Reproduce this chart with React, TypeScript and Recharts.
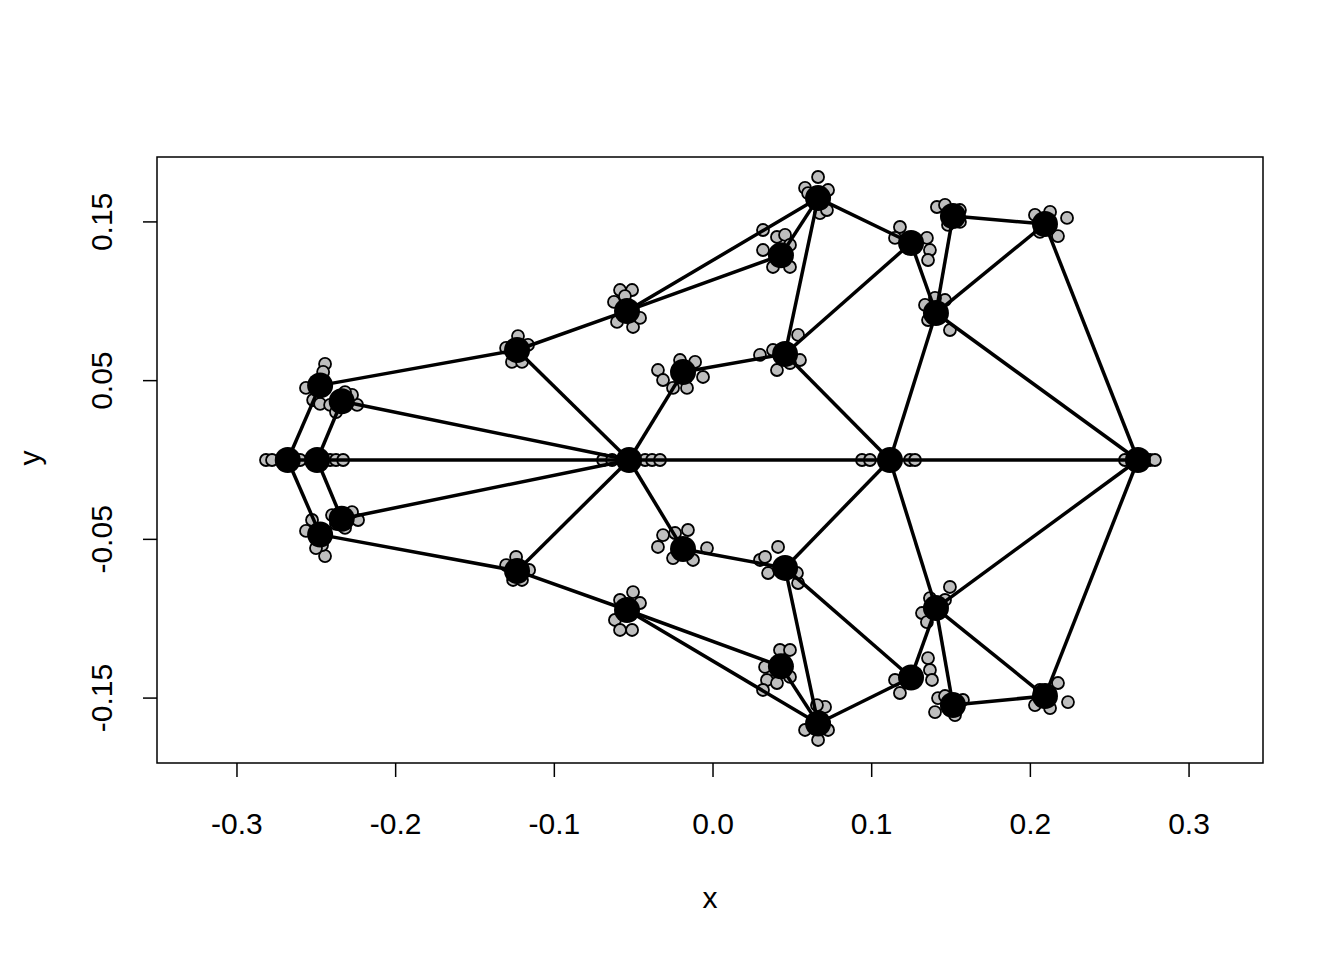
import { ScatterChart, Scatter, XAxis, YAxis, ReferenceArea } from "recharts";

// mean shape (consensus) landmarks, numbered 1..29
const landmarks: [number, number][] = [
  [-0.268, 0], [-0.2495, 0], [-0.2476, 0.047], [-0.234, 0.037], [-0.2476, -0.047],
  [-0.234, -0.037], [-0.1235, 0.0693], [-0.1235, -0.0699], [-0.0529, 0], [-0.0542, 0.0939],
  [-0.0542, -0.0945], [-0.0189, 0.0554], [-0.0189, -0.0561], [0.0428, 0.129], [0.0428, -0.13],
  [0.0662, 0.165], [0.0662, -0.166], [0.0454, 0.0668], [0.0454, -0.068], [0.1115, 0],
  [0.1248, 0.1367], [0.1248, -0.137], [0.1405, 0.0926], [0.1405, -0.0933], [0.1512, 0.1537],
  [0.1512, -0.1544], [0.2092, 0.1487], [0.2092, -0.1487], [0.2678, 0],
];

// wireframe links between landmarks (1-based)
const links: [number, number][] = [
  [1, 2], [2, 9], [9, 20], [20, 29], [1, 3], [1, 5], [2, 4], [2, 6], [3, 7], [5, 8],
  [4, 9], [6, 9], [7, 9], [8, 9], [7, 10], [8, 11], [9, 12], [9, 13], [12, 18], [13, 19],
  [10, 14], [11, 15], [10, 16], [11, 17], [14, 16], [15, 17], [16, 18], [17, 19], [16, 21],
  [17, 22], [18, 21], [19, 22], [18, 20], [19, 20], [20, 23], [20, 24], [21, 23], [22, 24],
  [23, 25], [24, 26], [25, 27], [26, 28], [23, 27], [24, 28], [23, 29], [24, 29], [27, 29],
  [28, 29],
];

// aligned specimen coordinates (grey points)
const specimens: [number, number][] = [
  [-0.2817, 0], [-0.2779, 0], [-0.2602, 0],
  [-0.2413, 0], [-0.2376, 0], [-0.2331, 0],
  [-0.2445, 0.0605], [-0.2457, 0.0555], [-0.2565, 0.0454], [-0.252, 0.0378], [-0.2476, 0.0353],
  [-0.2243, 0.0347], [-0.2275, 0.041], [-0.2413, 0.0347], [-0.2319, 0.0428], [-0.2376, 0.0302],
  [-0.2445, -0.0605], [-0.2565, -0.0447], [-0.2527, -0.0378], [-0.2464, -0.0536], [-0.2502, -0.0555],
  [-0.2237, -0.0378], [-0.2275, -0.0328], [-0.2401, -0.0347], [-0.2319, -0.0428], [-0.2376, -0.0403],
  [-0.1229, 0.0781], [-0.1304, 0.0706], [-0.1267, 0.0618], [-0.1204, 0.0618], [-0.1166, 0.0725],
  [-0.1241, -0.0611], [-0.1304, -0.0662], [-0.126, -0.0756], [-0.1204, -0.0756], [-0.1159, -0.0693],
  [-0.0693, 0], [-0.0636, 0], [-0.0428, 0], [-0.0384, 0], [-0.0334, 0],
  [-0.0586, 0.1071], [-0.051, 0.1071], [-0.0624, 0.0996], [-0.0605, 0.087], [-0.0504, 0.0838],
  [-0.046, 0.0895], [-0.0555, 0.1033],
  [-0.0586, -0.0882], [-0.0504, -0.0832], [-0.0618, -0.1008], [-0.0586, -0.1071], [-0.051, -0.1071],
  [-0.046, -0.0901],
  [-0.0347, 0.0567], [-0.0315, 0.0504], [-0.0164, 0.0454], [-0.0252, 0.0454], [-0.0113, 0.0618],
  [-0.0063, 0.0523], [-0.0208, 0.063],
  [-0.0347, -0.0548], [-0.0315, -0.0473], [-0.0158, -0.0441], [-0.0239, -0.046], [-0.0038, -0.0555],
  [-0.0126, -0.063], [-0.0252, -0.0618],
  [0.0315, 0.1449], [0.0315, 0.1323], [0.0378, 0.1216], [0.0485, 0.1216], [0.0403, 0.1405],
  [0.0454, 0.1418], [0.0485, 0.1355],
  [0.0422, -0.1197], [0.0485, -0.1197], [0.0328, -0.1304], [0.034, -0.1386], [0.0315, -0.1449],
  [0.0403, -0.1405], [0.0485, -0.1367],
  [0.0662, 0.1783], [0.058, 0.1714], [0.0725, 0.1701], [0.0674, 0.1556], [0.0718, 0.1575], [0.0599, 0.1682],
  [0.0706, -0.1556], [0.058, -0.1701], [0.0662, -0.1764], [0.0725, -0.1701], [0.0655, -0.1544],
  [0.0536, 0.0788], [0.0296, 0.0662], [0.0403, 0.0567], [0.0378, 0.0693], [0.0548, 0.063], [0.0485, 0.0611],
  [0.041, -0.0548], [0.0296, -0.063], [0.0347, -0.0712], [0.0536, -0.0775], [0.0529, -0.0712], [0.0328, -0.0611],
  [0.0939, 0], [0.0989, 0], [0.1241, 0], [0.1273, 0],
  [0.1178, 0.1468], [0.1147, 0.1399], [0.1348, 0.1399], [0.1367, 0.1323], [0.1355, 0.126],
  [0.1355, -0.1248], [0.1367, -0.1323], [0.1147, -0.1386], [0.1178, -0.1468], [0.138, -0.1386],
  [0.1336, 0.0977], [0.1355, 0.0882], [0.1462, 0.1008], [0.1493, 0.0819], [0.1399, 0.1021],
  [0.1493, -0.08], [0.1317, -0.0964], [0.1348, -0.1021], [0.1462, -0.0882], [0.1367, -0.087],
  [0.1411, 0.1594], [0.1462, 0.1607], [0.1556, 0.1575], [0.1481, 0.1481], [0.1556, 0.15],
  [0.1399, -0.1588], [0.1418, -0.15], [0.1575, -0.1512], [0.1525, -0.1607], [0.1462, -0.1487],
  [0.2231, 0.1525], [0.2174, 0.1411], [0.2029, 0.1544], [0.206, 0.1437], [0.2124, 0.1563],
  [0.2174, -0.1405], [0.2237, -0.1525], [0.2029, -0.1544], [0.206, -0.1449], [0.2124, -0.1563],
  [0.2596, 0], [0.2754, 0], [0.2785, 0],
];

const xTicks = [-0.3, -0.2, -0.1, 0, 0.1, 0.2, 0.3];
const yTicks = [-0.15, -0.05, 0.05, 0.15];

const FONT = "'Liberation Sans', Arial, sans-serif";
const FS = 30;

const toPts = (arr: [number, number][]) => arr.map(([x, y]) => ({ x, y }));

const GreyDot = (p: any) => (
  <circle cx={p.cx} cy={p.cy} r={6} fill="#bebebe" stroke="#000" strokeWidth={1.8} />
);
const MeanDot = (p: any) => <circle cx={p.cx} cy={p.cy} r={13} fill="#000" />;
const NoDot = () => <g />;

const XTick = ({ x, payload }: any) => (
  <text x={x} y={826} textAnchor="middle" fontSize={FS} fontFamily={FONT} fill="#000">
    {Number(payload.value).toFixed(1)}
  </text>
);

const YTick = ({ y, payload }: any) => (
  <text
    x={104}
    y={y}
    transform={`rotate(-90, 104, ${y})`}
    textAnchor="middle"
    fontSize={FS}
    fontFamily={FONT}
    fill="#000"
  >
    {Number(payload.value).toFixed(2)}
  </text>
);

export default function App() {
  const linkData = links.map(([a, b]) => toPts([landmarks[a - 1], landmarks[b - 1]]));
  return (
    <div style={{ position: "relative", width: 1336, height: 952, background: "#fff", fontFamily: FONT }}>
      <ScatterChart width={1336} height={952} margin={{ top: 149, right: 81, bottom: 137, left: 69 }}>
        <XAxis
          type="number"
          dataKey="x"
          domain={[-0.3504, 0.3466]}
          allowDataOverflow
          ticks={xTicks}
          axisLine={false}
          tickSize={14}
          tickLine={{ stroke: "#000", strokeWidth: 1.5 }}
          tick={<XTick />}
          height={60}
        />
        <YAxis
          type="number"
          dataKey="y"
          domain={[-0.1909, 0.1909]}
          allowDataOverflow
          ticks={yTicks}
          axisLine={false}
          tickSize={14}
          tickLine={{ stroke: "#000", strokeWidth: 1.5 }}
          tick={<YTick />}
          width={80}
        />
        <ReferenceArea
          x1={-0.3504}
          x2={0.3466}
          y1={-0.1909}
          y2={0.1909}
          fill="none"
          fillOpacity={0}
          stroke="#000"
          strokeWidth={1.5}
          ifOverflow="visible"
        />
        <Scatter data={toPts(specimens)} shape={GreyDot} isAnimationActive={false} />
        {linkData.map((d, i) => (
          <Scatter
            key={i}
            data={d}
            line={{ stroke: "#000", strokeWidth: 3.5 }}
            shape={NoDot}
            isAnimationActive={false}
          />
        ))}
        <Scatter data={toPts(landmarks)} shape={MeanDot} isAnimationActive={false} />
      </ScatterChart>
      <div style={{ position: "absolute", left: 687, top: 873, width: 30, textAlign: "center", fontSize: FS }}>
        x
      </div>
      <div
        style={{
          position: "absolute",
          left: 7,
          top: 433,
          width: 30,
          textAlign: "center",
          fontSize: FS,
          transform: "rotate(-90deg)",
        }}
      >
        y
      </div>
    </div>
  );
}
